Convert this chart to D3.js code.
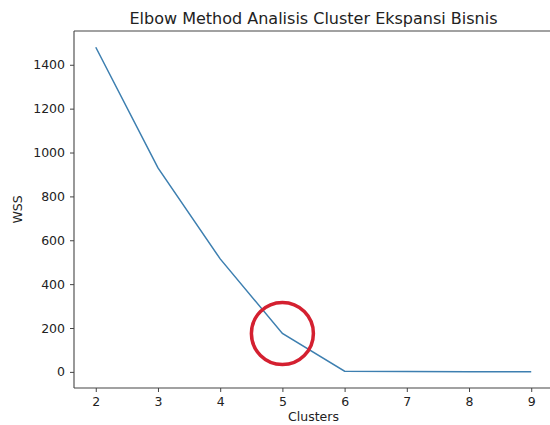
<!DOCTYPE html>
<html><head><meta charset="utf-8">
<script src="https://cdn.jsdelivr.net/npm/d3@7"></script>
<style>html,body{margin:0;padding:0;background:#fff;}svg{display:block;font-family:"DejaVu Sans",sans-serif;}</style>
</head><body>
<svg id="c" width="550" height="425"></svg>
<script>
const clusters = [2, 3, 4, 5, 6, 7, 8, 9];
const wss = [1480, 930, 515, 175, 3, 2, 1, 0.5];
const yTicks = [0, 200, 400, 600, 800, 1000, 1200, 1400];
const xTicks = [2, 3, 4, 5, 6, 7, 8, 9];
const elbowK = 5;
const elbowWss = 175;
const title = "Elbow Method Analisis Cluster Ekspansi Bisnis";

const svg = d3.select("#c");
const L = 74, R = 553, T = 31, B = 388;
const x = d3.scaleLinear().domain([1.65, 9.35]).range([L, R]);
const y = d3.scaleLinear().domain([-73.5, 1554]).range([B, T]);

// spines (right spine falls outside the visible area)
const sp = svg.append("g").attr("stroke", "#444").attr("stroke-width", 1.1).attr("fill", "none");
sp.append("line").attr("x1", L).attr("x2", L).attr("y1", T).attr("y2", B);
sp.append("line").attr("x1", L).attr("x2", R).attr("y1", B).attr("y2", B);
sp.append("line").attr("x1", L).attr("x2", R).attr("y1", T).attr("y2", T);

const xAxis = svg.append("g").attr("transform", `translate(0,${B})`)
  .call(d3.axisBottom(x).tickValues(xTicks).tickSize(4).tickPadding(5).tickFormat(d3.format("d")));
const yAxis = svg.append("g").attr("transform", `translate(${L},0)`)
  .call(d3.axisLeft(y).tickValues(yTicks).tickSize(4).tickPadding(5).tickFormat(d3.format("d")));
[xAxis, yAxis].forEach(a => {
  a.select(".domain").remove();
  a.selectAll(".tick line").attr("stroke", "#444").attr("stroke-width", 1);
  a.selectAll(".tick text").attr("fill", "#222").style("font-size", "12.5px").style("font-family", "DejaVu Sans");
});

// line
const line = d3.line().x((d, i) => x(clusters[i])).y(d => y(d));
svg.append("path").datum(wss).attr("d", line)
  .attr("fill", "none").attr("stroke", "#3d7fb0").attr("stroke-width", 1.5);

// elbow circle
svg.append("circle").attr("cx", x(elbowK)).attr("cy", y(elbowWss)).attr("r", 31)
  .attr("fill", "none").attr("stroke", "#d42030").attr("stroke-width", 3.5);

// title and labels
svg.append("text").attr("x", (L + R) / 2).attr("y", 24).attr("text-anchor", "middle")
  .style("font-size", "16px").attr("fill", "#222").text(title);
svg.append("text").attr("x", (L + R) / 2).attr("y", 421).attr("text-anchor", "middle")
  .style("font-size", "12.5px").attr("fill", "#222").text("Clusters");
svg.append("text").attr("transform", `translate(22,${(T + B) / 2}) rotate(-90)`).attr("text-anchor", "middle")
  .style("font-size", "12.5px").attr("fill", "#222").text("WSS");
</script>
</body></html>
